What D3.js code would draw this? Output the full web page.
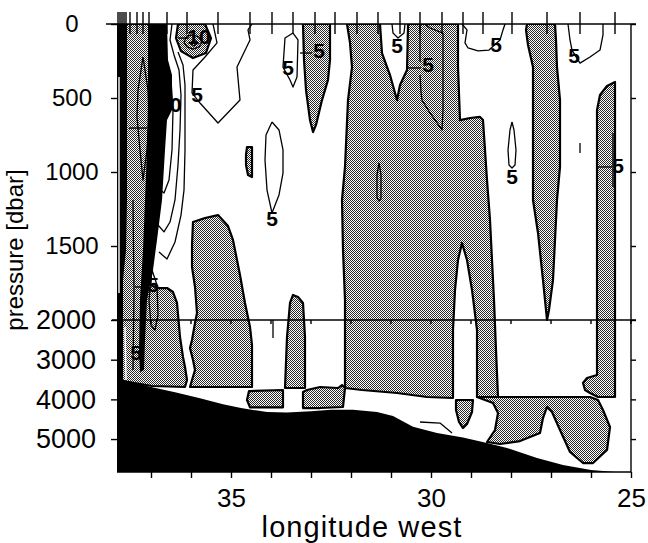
<!DOCTYPE html>
<html>
<head>
<meta charset="utf-8">
<script src="https://cdn.jsdelivr.net/npm/d3@7/dist/d3.min.js"></script>
<style>
  html, body { margin: 0; padding: 0; background: #fff; }
  svg { display: block; }
  text { font-family: "Liberation Sans", Arial, Helvetica, sans-serif; fill: #000; }
</style>
</head>
<body>
<svg id="chart" width="648" height="543"></svg>
<script>
// ---------- axes ----------
const lonDomain = [37.85, 25];               // longitude west, west on the left
const lonTicks = d3.range(25, 38);
const lonTickLabels = [35, 30, 25];
const pressureBreaks = [0, 2000, 5830];      // upper panel 0-2000, compressed below
const pressureTicksUpper = [0, 500, 1000, 1500];
const pressureTicksLower = [2000, 3000, 4000, 5000];

// CTD station positions (lon W)
const stations = [37.825, 37.775, 37.725, 37.675, 37.625, 37.525, 37.35, 37.2, 37.05,
  36.6, 36.1, 35.325, 34.525, 33.975, 33.45, 32.9, 32.4, 31.85, 31.325, 30.775,
  30.275, 29.725, 29.2, 28.7, 27.975, 27.1, 26.275, 25.4];

// bottom depth along the section [lon, dbar]
const seafloor = [[37.85, 3440], [37.6, 3540], [37.0, 3690], [36.4, 3820], [35.8, 3965],
  [35.2, 4120], [34.75, 4220], [34.1, 4320], [33.6, 4330], [33.0, 4300], [32.5, 4260],
  [31.95, 4260], [31.35, 4320], [30.95, 4420], [30.45, 4690], [29.85, 4850], [29.2, 4960],
  [28.6, 5100], [28.1, 5225], [27.35, 5480], [26.7, 5655], [26.0, 5780], [25.4, 5830], [25.0, 5830]];

// ---------- stippled areas (negative values, bounded by the zero contour) ----------
const shadeWest = [[37.85, 0], [36.775, 0], [36.775, 514], [36.9, 1189], [36.975, 1527],
  [37.025, 1764], [36.825, 1784], [36.6, 1784], [36.45, 1811], [36.35, 1885], [36.275, 2428],
  [36.2, 2932], [36.15, 3184], [36.1, 3512], [36.15, 3688], [36.975, 3663], [37.85, 3512]];
const shadeSpiral = [[36.325, 0], [35.65, 0], [35.5, 95], [35.625, 196], [35.95, 230],
  [36.25, 183], [36.375, 95]];
const shade35W = [[35.95, 1338], [35.65, 1311], [35.325, 1291], [35.075, 1365], [34.95, 1459],
  [34.775, 1696], [34.65, 1885], [34.525, 2176], [34.475, 2630], [34.475, 3688], [36.025, 3688],
  [35.975, 3512], [35.9, 3260], [35.95, 3008], [36.025, 2706], [35.975, 2504], [35.9, 2076],
  [35.85, 1953], [35.9, 1777], [35.975, 1642], [35.975, 1493]];
const shadeLens34W = [[34.6, 831], [34.475, 831], [34.475, 1034], [34.575, 1020], [34.625, 953], [34.625, 885]];
const shadeDeep34W = [[34.55, 3790], [33.7, 3764], [33.7, 4200], [34.525, 4200], [34.6, 4016]];
const shadeTongue33W = [[33.45, 1831], [33.325, 1845], [33.2, 1885], [33.15, 2428], [33.15, 3714],
  [33.65, 3714], [33.6, 2428], [33.525, 1885]];
const shadeDeep33W = [[33.2, 3814], [33.1, 3764], [32.775, 3688], [32.325, 3714], [32.225, 3638],
  [32.15, 3714], [32.2, 4192], [32.775, 4218], [33.2, 4218]];
const shadeSurface33W = [[33.2, 0], [32.525, 0], [32.525, 243], [32.575, 378], [32.725, 514],
  [32.875, 682], [32.95, 730], [33.025, 649], [33.125, 446], [33.175, 243]];
const shadeCentral = [[32.1, 0], [31.275, 0], [31.225, 196], [31.025, 345], [30.85, 514],
  [30.775, 412], [30.6, 311], [30.575, 20], [30.575, 0], [29.325, 0], [29.325, 291],
  [29.275, 649], [29.025, 635], [28.775, 628], [28.7, 649], [28.65, 851], [28.6, 1054],
  [28.525, 1324], [28.475, 1595], [28.425, 1865], [28.375, 2756], [28.325, 3940], [28.85, 3940],
  [28.85, 2252], [28.975, 1797], [29.1, 1595], [29.225, 1480], [29.325, 1595], [29.4, 1797],
  [29.45, 2252], [29.45, 3965], [30.1, 3940], [30.85, 3840], [31.725, 3764], [32.15, 3714],
  [32.15, 1865], [32.2, 1527], [32.225, 1189], [32.15, 966], [32.075, 514], [31.975, 291], [32.025, 128]];
const shadeShield = [[29.375, 4016], [28.95, 4016], [28.975, 4318], [29.1, 4620], [29.2, 4722],
  [29.3, 4570], [29.375, 4268]];
const shadeDeepEast = [[28.85, 3940], [26.025, 3940], [25.825, 4016], [25.7, 4268], [25.525, 4696],
  [25.6, 5276], [25.95, 5604], [26.2, 5604], [26.525, 5326], [26.775, 4772], [26.975, 4318],
  [27.1, 4192], [27.2, 4470], [27.275, 4848], [27.775, 5050], [28.275, 5125], [28.6, 5074],
  [28.4, 4772], [28.325, 4344], [28.45, 4092]];
const shade27W = [[27.6, 0], [26.9, 0], [26.875, 108], [26.85, 291], [26.775, 514], [26.775, 966],
  [26.85, 1189], [26.95, 1730], [27.05, 1932], [27.1, 2000], [27.15, 1865], [27.2, 1730],
  [27.325, 1412], [27.45, 1189], [27.45, 514], [27.45, 291], [27.575, 142], [27.625, 40]];
const shade25W = [[25.4, 392], [25.4, 3940], [25.825, 3940], [26.025, 3840], [26.15, 3764],
  [26.2, 3588], [26.1, 3462], [25.85, 3386], [25.85, 1865], [25.85, 1189], [25.85, 581],
  [25.775, 480], [25.6, 419]];

// ---------- dense contour packets on the western slope (drawn solid) ----------
const slopeInner = [[37.85, 0], [37.6, 0], [37.6, 784], [37.6, 1189], [37.625, 1527],
  [37.7, 1730], [37.7, 3800], [37.85, 3800]];
const slopeCore = [[37.075, 0], [36.6, 0], [36.575, 243], [36.475, 345], [36.475, 581],
  [36.6, 649], [36.65, 851], [36.725, 1189], [36.85, 1459], [36.95, 1662], [37.1, 1865],
  [37.15, 2504], [37.175, 3260], [37.275, 3310], [37.3, 2756], [37.275, 1865], [37.2, 1527],
  [37.15, 1189], [37.1, 851], [37.075, 514]];
const slopeGaps = [
  [[37.8, 358], [37.8, 1818]],
  [[37.65, 2176], [37.625, 3512]]
];

// ---------- other contour lines (+/-5, +/-10 ...) ----------
const isolines = [
  // positive core east of the slope current
  [[36.65, 0], [36.7, 142], [36.6, 257], [36.5, 378], [36.45, 581], [36.475, 851], [36.55, 1054], [36.675, 1142], [36.825, 1108]],
  [[36.475, 0], [36.525, 108], [36.425, 209], [36.3, 311], [36.25, 480], [36.275, 716], [36.325, 953], [36.4, 1189], [36.525, 1338], [36.675, 1405], [36.825, 1358]],
  [[36.325, 189], [36.2, 277], [36.15, 412], [36.15, 581], [36.15, 851], [36.175, 1122], [36.25, 1291], [36.4, 1473], [36.6, 1588], [36.8, 1541]],
  // eddy rings near the surface at 36W
  [[36.175, 122], [36.1, 81], [35.95, 74], [35.8, 88], [35.725, 122], [35.8, 155], [35.95, 169], [36.1, 155], [36.175, 122]],
  [[36.025, 128], [35.925, 108], [35.825, 128], [35.925, 149], [36.025, 128]],
  [[36.325, 95], [36.05, 95]],
  // +5 tongue
  [[35.45, 0], [35.35, 128], [35.65, 223], [35.95, 311], [35.975, 466], [35.775, 534], [35.325, 669], [34.775, 514], [34.85, 291], [34.525, 108], [34.575, 40], [34.475, 0]],
  [[33.975, 662], [33.8, 716], [33.7, 851], [33.7, 1007], [33.8, 1155], [33.975, 1277], [34.1, 1122], [34.15, 919], [34.125, 750], [33.975, 662]],
  [[33.45, 61], [33.65, 95], [33.7, 291], [33.525, 378], [33.45, 426], [33.35, 358], [33.325, 108], [33.45, 61]],
  [[33.275, 196], [32.975, 196]],
  // inside the central band
  [[30.975, 0], [30.95, 61], [30.825, 95], [30.675, 61], [30.65, 0]],
  [[30.275, 0], [30.275, 257]],
  [[30.575, 297], [30.25, 297]],
  [[30.275, 345], [30.25, 460], [30.225, 514], [30.025, 601], [29.725, 716], [29.7, 581], [29.7, 243], [29.7, 61], [30.025, 27], [30.15, 0]],
  [[31.3, 939], [31.25, 1020], [31.25, 1176], [31.3, 1196], [31.35, 1176], [31.35, 1020], [31.3, 939]],
  [[29.225, 0], [29.1, 40], [29.15, 128], [29.075, 162], [28.825, 182], [28.55, 176], [28.275, 108], [28.2, 40], [28.15, 0]],
  [[27.975, 662], [27.925, 716], [27.875, 851], [27.9, 953], [27.975, 973], [28.05, 953], [28.075, 851], [28.025, 716], [27.975, 662]],
  [[26.575, 0], [26.525, 108], [26.475, 176], [26.275, 264], [26.025, 223], [25.775, 176], [25.7, 74], [25.7, 0]],
  [[26.275, 804], [26.275, 872]],
  [[25.825, 966], [25.475, 966]],
  [[25.45, 736], [25.45, 1101]],
  [[33.95, 2000], [33.95, 2454]],
  [[30.275, 4570], [29.775, 4596], [29.475, 4848]],
  // threads within the slope band
  [[37.2, 223], [37.325, 446], [37.35, 628], [37.275, 851], [37.2, 1054], [37.1, 851], [37.05, 628], [37.075, 446], [37.2, 223]],
  [[37.55, 703], [37.1, 703]],
  [[37.45, 1189], [37.425, 1797], [37.45, 3260]],
  [[36.975, 1662], [37.05, 1865], [37.0, 2126], [36.9, 2252], [36.825, 1966], [36.85, 1764], [36.975, 1662]],
  [[37.4, 1777], [37.2, 1777]]
];

// contour labels [lon, dbar (baseline), text]
const contourLabels = [
  [35.8, 135, "10"], [36.525, 595, "10"],
  [35.85, 527, "5"], [33.975, 1365, "5"], [33.575, 345, "5"], [32.8, 230, "5"],
  [30.85, 196, "5"], [30.075, 324, "5"], [28.375, 189, "5"], [26.425, 264, "5"],
  [27.975, 1081, "5"], [25.325, 1007, "5"], [36.95, 1811, "5"], [37.375, 3008, "5"]
];

// ---------- drawing ----------
const svg = d3.select("#chart");
const frame = { left: 117, right: 631, top: 24, split: 320, bottom: 472 };

const x = d3.scaleLinear().domain(lonDomain).range([frame.left, frame.right]);
const y = d3.scaleLinear().domain(pressureBreaks).range([frame.top, frame.split, frame.bottom]);

const line = d3.line().x(d => x(d[0])).y(d => y(d[1]));
const area = pts => line(pts) + "Z";

const defs = svg.append("defs");
const pat = defs.append("pattern").attr("id", "stipple")
  .attr("width", 2).attr("height", 2).attr("patternUnits", "userSpaceOnUse");
pat.append("rect").attr("width", 2).attr("height", 2).attr("fill", "#fff");
pat.append("rect").attr("width", 1).attr("height", 1).attr("fill", "#2a2a2a");
pat.append("rect").attr("x", 1).attr("y", 1).attr("width", 1).attr("height", 1).attr("fill", "#2a2a2a");

defs.append("clipPath").attr("id", "plotClip").append("rect")
  .attr("x", frame.left).attr("y", frame.top)
  .attr("width", frame.right - frame.left).attr("height", frame.bottom - frame.top);

const body = svg.append("g").attr("clip-path", "url(#plotClip)");

const shaded = [shadeWest, shadeSpiral, shade35W, shadeLens34W, shadeDeep34W, shadeTongue33W,
  shadeDeep33W, shadeSurface33W, shadeCentral, shadeShield, shadeDeepEast, shade27W, shade25W];

body.append("g").selectAll("path").data(shaded).join("path")
  .attr("d", area)
  .attr("fill", "url(#stipple)")
  .attr("stroke", "#000").attr("stroke-width", 2.2).attr("stroke-linejoin", "round");

body.append("g").selectAll("path").data(isolines).join("path")
  .attr("d", line)
  .attr("fill", "none")
  .attr("stroke", "#000").attr("stroke-width", 1.3).attr("stroke-linejoin", "round");

body.append("g").selectAll("path").data([slopeInner, slopeCore]).join("path")
  .attr("d", area).attr("fill", "#000");

body.append("g").selectAll("path").data(slopeGaps).join("path")
  .attr("d", line).attr("fill", "none").attr("stroke", "#fff").attr("stroke-width", 1.4);

// topography
body.append("path")
  .attr("d", area(seafloor.concat([[25, 6000], [37.85, 6000]])))
  .attr("fill", "#000");

// contour labels
svg.append("g").selectAll("text").data(contourLabels).join("text")
  .attr("x", d => x(d[0])).attr("y", d => y(d[1]))
  .attr("text-anchor", "middle")
  .attr("font-size", 21).attr("font-weight", "bold")
  .text(d => d[2]);

// frame lines
const frameG = svg.append("g").attr("stroke", "#000").attr("stroke-width", 1.4);
frameG.append("line").attr("x1", 106).attr("x2", frame.right + 5)
  .attr("y1", y(0)).attr("y2", y(0));
frameG.append("line").attr("x1", frame.left - 5).attr("x2", frame.right + 5)
  .attr("y1", y(2000)).attr("y2", y(2000));
frameG.append("line").attr("x1", frame.right).attr("x2", frame.right)
  .attr("y1", y(0)).attr("y2", frame.bottom);
frameG.append("line").attr("x1", frame.left).attr("x2", frame.right)
  .attr("y1", frame.bottom).attr("y2", frame.bottom);

// small ticks on the 2000 dbar break
frameG.selectAll("line.brk").data(lonTicks).join("line").attr("class", "brk")
  .attr("x1", d => x(d)).attr("x2", d => x(d))
  .attr("y1", y(2000)).attr("y2", y(2000) + 4);

// station marks along the top
frameG.selectAll("line.stn").data(stations).join("line").attr("class", "stn")
  .attr("x1", d => x(d)).attr("x2", d => x(d))
  .attr("y1", 12).attr("y2", 34);

// bottom axis
const xAxis = svg.append("g").attr("transform", `translate(0,${frame.bottom})`)
  .call(d3.axisBottom(x).tickValues(lonTicks).tickSize(6).tickPadding(11)
    .tickFormat(d => lonTickLabels.includes(d) ? d : ""));
xAxis.selectAll("text").attr("font-size", 26).attr("font-family", null);

// left axis: upper panel and lower (compressed) panel
const yAxisUpper = svg.append("g").attr("transform", `translate(${frame.left},0)`)
  .call(d3.axisLeft(y).tickValues(pressureTicksUpper).tickSize(6).tickFormat(d3.format("d")));
yAxisUpper.selectAll("text").attr("font-size", 24).attr("font-family", null)
  .attr("text-anchor", "middle").attr("x", 72 - frame.left);
const yAxisLower = svg.append("g").attr("transform", `translate(${frame.left},0)`)
  .call(d3.axisLeft(y).tickValues(pressureTicksLower).tickSize(6).tickFormat(d3.format("d")));
yAxisLower.selectAll("text").attr("font-size", 27).attr("font-family", null)
  .attr("text-anchor", "middle").attr("x", 66 - frame.left);

// right axis (ticks only)
svg.append("g").attr("transform", `translate(${frame.right},0)`)
  .call(d3.axisRight(y).tickValues(pressureTicksUpper.concat(pressureTicksLower)).tickSize(5).tickFormat(""));

svg.selectAll(".domain").remove();
svg.selectAll(".tick line").attr("stroke-width", 1.4);

// axis titles
svg.append("text").attr("x", 362).attr("y", 537).attr("text-anchor", "middle")
  .attr("font-size", 29).attr("letter-spacing", 1.1).text("longitude west");
svg.append("text").attr("transform", "translate(23,250) rotate(-90)")
  .attr("text-anchor", "middle").attr("font-size", 24).text("pressure [dbar]");
</script>
</body>
</html>
